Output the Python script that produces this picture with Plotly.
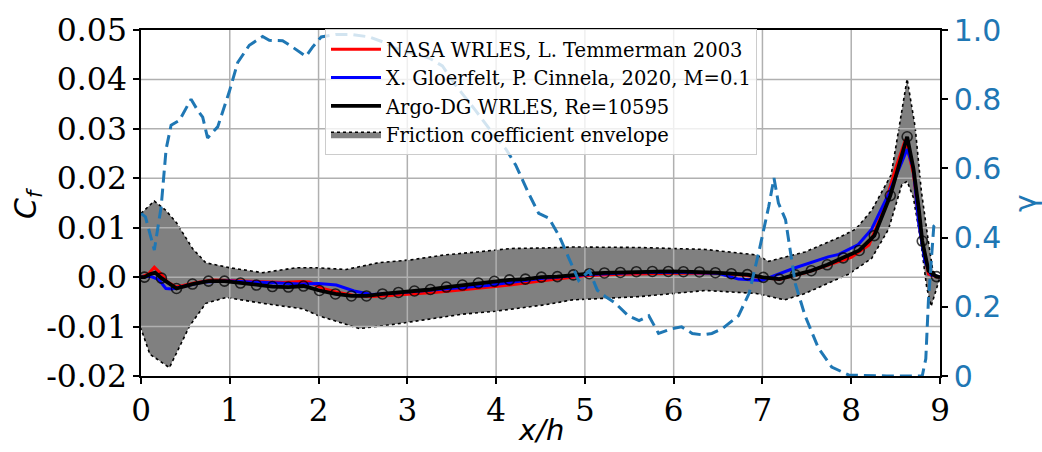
import plotly.graph_objects as go

# ---------------- data ----------------
X_TICKS = [0, 1, 2, 3, 4, 5, 6, 7, 8, 9]
CF_TICKS = [-0.02, -0.01, 0.0, 0.01, 0.02, 0.03, 0.04, 0.05]
CF_TICK_TEXT = ["-0.02", "-0.01", "0.0", "0.01", "0.02", "0.03", "0.04", "0.05"]
GAM_TICKS = [0.0, 0.2, 0.4, 0.6, 0.8, 1.0]
GAM_TICK_TEXT = ["0", "0.2", "0.4", "0.6", "0.8", "1.0"]

# NASA WRLES, L. Temmerman 2003 (red)
NASA_X = [0.0, 0.08, 0.15, 0.22, 0.3, 0.4, 0.6, 0.8, 1.0, 1.3, 1.6, 1.8, 1.9, 2.05, 2.2, 2.4,
          2.6, 2.8, 3.0, 3.3, 3.6, 3.9, 4.2, 4.5, 4.8, 5.0, 5.4, 6.0, 6.5, 6.8, 7.0, 7.2,
          7.5, 7.8, 8.0, 8.2, 8.35, 8.5, 8.61, 8.7, 8.78, 8.87, 8.95, 9.0]
NASA_CF = [0.0, 0.0006, 0.002, 0.0008, -0.001, -0.002, -0.0012, -0.0006, -0.0007, -0.0009,
           -0.0011, -0.0009, -0.001, -0.0023, -0.003, -0.0037, -0.0039, -0.0037, -0.0035,
           -0.0031, -0.0026, -0.0021, -0.0015, -0.0008, -0.0002, 0.0003, 0.0006, 0.0008,
           0.0008, 0.0004, -0.0001, -0.0004, 0.001, 0.0028, 0.004, 0.0065, 0.013, 0.022,
           0.0278, 0.021, 0.009, 0.0006, 0.0001, 0.0]

# X. Gloerfelt, P. Cinnela, 2020, M=0.1 (blue)
GLO_X = [0.0, 0.1, 0.2, 0.28, 0.35, 0.5, 0.7, 1.0, 1.3, 1.6, 1.8, 2.0, 2.2, 2.4, 2.6, 2.8,
         3.0, 3.3, 3.6, 3.9, 4.2, 4.5, 4.8, 5.0, 5.5, 6.0, 6.5, 6.73, 6.99, 7.11, 7.37,
         7.74, 7.86, 8.08, 8.23, 8.42, 8.55, 8.63, 8.7, 8.76, 8.83, 8.9, 9.0]
GLO_CF = [0.0, 0.0002, -0.0005, -0.0023, -0.0024, -0.0018, -0.001, -0.0008, -0.001, -0.0012,
          -0.0014, -0.0013, -0.0016, -0.0028, -0.0035, -0.0033, -0.003, -0.0026, -0.0022,
          -0.0017, -0.001, -0.0003, 0.0002, 0.0005, 0.0009, 0.001, 0.0008, -0.0004, -0.0007,
          0.0001, 0.0019, 0.0041, 0.0046, 0.0066, 0.0097, 0.0168, 0.0225, 0.0259, 0.022,
          0.011, 0.0032, 0.0005, 0.0]

# Argo-DG WRLES, Re=10595 (black) - marker positions
ARGO_MARK_X = [0.04, 0.23, 0.40, 0.58, 0.76, 0.94, 1.12, 1.30, 1.48, 1.66, 1.83, 2.01, 2.19,
               2.37, 2.54, 2.72, 2.90, 3.08, 3.26, 3.44, 3.62, 3.80, 3.98, 4.15, 4.33, 4.51,
               4.69, 4.87, 5.05, 5.22, 5.40, 5.58, 5.76, 5.94, 6.11, 6.29, 6.47, 6.65, 6.83,
               7.01, 7.19, 7.37, 7.55, 7.73, 7.91, 8.09, 8.26, 8.44, 8.63, 8.80, 8.96]
ARGO_MARK_CF = [0.0, -0.0002, -0.0023, -0.0014, -0.0008, -0.0008, -0.0012, -0.0016, -0.0019,
                -0.002, -0.0018, -0.0027, -0.0034, -0.0038, -0.0038, -0.0034, -0.0031, -0.0028,
                -0.0025, -0.002, -0.0016, -0.0012, -0.00085, -0.00055, -0.0004, 0.0, 0.0001,
                0.00045, 0.0007, 0.00085, 0.00095, 0.0011, 0.00115, 0.00115, 0.0011, 0.00105,
                0.0009, 0.0007, 0.0005, -0.00005, -0.0004, 0.00045, 0.0013, 0.0025, 0.0039,
                0.0054, 0.0084, 0.0165, 0.0284, 0.0073, 0.0001]
# extra points of the black line between markers
ARGO_EXTRA_X = [0.0, 0.10, 0.16, 0.31, 8.70, 8.76, 8.87, 9.0]
ARGO_EXTRA_CF = [0.0, 0.0006, 0.0009, -0.0012, 0.022, 0.014, 0.0013, 0.0]

# Friction coefficient envelope
ENV_UP_X = [0.0, 0.15, 0.28, 0.40, 0.58, 0.73, 1.0, 1.37, 1.75, 1.97, 2.31, 2.67, 3.04, 3.42,
            3.79, 4.17, 4.54, 4.86, 5.61, 6.36, 6.93, 7.07, 7.48, 7.86, 8.05, 8.23, 8.45,
            8.63, 8.72, 8.79, 8.87, 8.92, 9.0]
ENV_UP = [0.0129, 0.0154, 0.0135, 0.011, 0.0058, 0.0029, 0.0019, 0.0009, 0.0019, 0.0019,
          0.00155, 0.0029, 0.0035, 0.0045, 0.0051, 0.0058, 0.0059, 0.0061, 0.006, 0.0056,
          0.0045, 0.0032, 0.0051, 0.008, 0.0097, 0.0135, 0.0207, 0.0401, 0.0304, 0.0174,
          0.0071, 0.0012, 0.0]
ENV_LO_X = [0.0, 0.10, 0.32, 0.55, 0.73, 0.96, 1.37, 1.82, 2.0, 2.46, 2.87, 3.24, 3.62, 3.99,
            4.55, 4.86, 5.61, 6.36, 6.93, 7.25, 7.48, 7.97, 8.23, 8.42, 8.57, 8.63, 8.70,
            8.78, 8.85, 8.90, 9.0]
ENV_LO = [-0.0104, -0.0156, -0.0183, -0.0098, -0.0053, -0.0041, -0.0053, -0.0064, -0.0078,
          -0.0104, -0.0095, -0.0085, -0.0075, -0.0069, -0.0056, -0.0046, -0.00395, -0.0027,
          -0.0033, -0.0046, -0.0033, 0.0006, 0.0038, 0.0097, 0.0187, 0.0194, 0.0161, 0.0077,
          -0.002, -0.0059, 0.0]

# intermittency gamma (right axis, dashed)
GAM_X = [0.0, 0.05, 0.15, 0.227, 0.283, 0.339, 0.433, 0.564, 0.64, 0.695, 0.75, 0.864, 0.995,
         1.089, 1.22, 1.37, 1.445, 1.595, 1.71, 1.858, 1.93, 2.03, 2.195, 2.38, 2.57, 2.72,
         2.87, 3.245, 3.395, 3.545, 3.77, 3.995, 4.11, 4.22, 4.37, 4.48, 4.595, 4.71, 4.82,
         4.93, 5.05, 5.14, 5.23, 5.34, 5.49, 5.61, 5.72, 5.83, 5.98, 6.09, 6.21, 6.32, 6.43,
         6.55, 6.73, 6.85, 6.96, 7.07, 7.13, 7.18, 7.26, 7.37, 7.48, 7.63, 7.78, 7.97, 8.4,
         8.8, 8.84, 8.87, 8.93, 8.96]
GAM = [0.47, 0.46, 0.364, 0.489, 0.656, 0.725, 0.739, 0.80, 0.767, 0.748, 0.688, 0.72, 0.822,
       0.906, 0.956, 0.981, 0.97, 0.969, 0.95, 0.924, 0.95, 0.98, 0.987, 0.987, 0.98, 0.966,
       0.947, 0.919, 0.896, 0.84, 0.767, 0.69, 0.656, 0.61, 0.526, 0.47, 0.456, 0.405, 0.34,
       0.276, 0.304, 0.248, 0.23, 0.211, 0.174, 0.16, 0.174, 0.123, 0.137, 0.142, 0.123,
       0.119, 0.123, 0.137, 0.174, 0.239, 0.359, 0.489, 0.572, 0.50, 0.452, 0.267, 0.174,
       0.081, 0.026, 0.003, 0.0, 0.0, 0.05, 0.22, 0.433, 0.44]

# ---------------- figure ----------------
SERIF = "DejaVu Serif"
SANS = "DejaVu Sans"
GAM_COLOR = "#1f77b4"

fig = go.Figure()

# envelope polygon
fig.add_trace(go.Scatter(
    x=ENV_UP_X + ENV_LO_X[::-1], y=ENV_UP + ENV_LO[::-1],
    mode="lines", fill="toself", fillcolor="#808080",
    line=dict(color="black", width=1.6, dash="dot"),
    name="Friction coefficient envelope", legendrank=4, hoverinfo="skip"))

# grid lines drawn above the envelope but below the curves (matplotlib style)
gx, gy = [], []
for t in X_TICKS[1:-1]:
    gx += [t, t, None]
    gy += [CF_TICKS[0], CF_TICKS[-1], None]
for t in CF_TICKS[1:-1]:
    gx += [X_TICKS[0], X_TICKS[-1], None]
    gy += [t, t, None]
fig.add_trace(go.Scatter(x=gx, y=gy, mode="lines", line=dict(color="#b0b0b0", width=1.5),
                         showlegend=False, hoverinfo="skip"))

fig.add_trace(go.Scatter(x=NASA_X, y=NASA_CF, mode="lines",
                         line=dict(color="red", width=3),
                         name="NASA WRLES, L. Temmerman 2003", legendrank=1))
fig.add_trace(go.Scatter(x=GLO_X, y=GLO_CF, mode="lines",
                         line=dict(color="blue", width=3),
                         name="X. Gloerfelt, P. Cinnela, 2020, M=0.1", legendrank=2))

argo = sorted(zip(ARGO_MARK_X + ARGO_EXTRA_X, ARGO_MARK_CF + ARGO_EXTRA_CF))
fig.add_trace(go.Scatter(x=[p[0] for p in argo], y=[p[1] for p in argo], mode="lines",
                         line=dict(color="black", width=3.8),
                         name="Argo-DG WRLES, Re=10595", legendrank=3))
fig.add_trace(go.Scatter(x=ARGO_MARK_X, y=ARGO_MARK_CF, mode="markers",
                         marker=dict(symbol="circle-open", size=10, color="rgba(0,0,0,0.75)",
                                     line=dict(width=1.6)),
                         showlegend=False, hoverinfo="skip"))

fig.add_trace(go.Scatter(x=GAM_X, y=GAM, mode="lines", yaxis="y2",
                         line=dict(color=GAM_COLOR, width=3, dash="12px,6px"),
                         showlegend=False, name="gamma"))

L, R, T, B = 141, 102, 16, 76
PW, PH = 1042 - L - R, 452 - T - B
fig.update_layout(
    width=1042, height=452,
    margin=dict(l=L, r=R, t=T, b=B, pad=0),
    plot_bgcolor="white", paper_bgcolor="white",
    legend=dict(x=(325 - L) / PW, y=1 - (15 - T) / PH,
                xanchor="left", yanchor="top", itemwidth=50,
                bgcolor="rgba(255,255,255,0.8)", bordercolor="#cccccc", borderwidth=1,
                font=dict(family=SERIF, size=19.5, color="black"), traceorder="normal"),
    xaxis=dict(range=[0, 9], tickvals=X_TICKS, ticktext=[str(t) for t in X_TICKS],
               showgrid=False, zeroline=False, showline=True, linecolor="black",
               linewidth=1.5, mirror=True, ticks="outside", ticklen=6, tickwidth=1.5,
               tickcolor="black", ticklabeloverflow="allow",
               tickfont=dict(family=SERIF, size=31, color="black")),
    yaxis=dict(range=[-0.02, 0.05], tickvals=CF_TICKS, ticktext=CF_TICK_TEXT,
               showgrid=False, zeroline=False, showline=True, linecolor="black",
               linewidth=1.5, ticks="outside", ticklen=6, tickwidth=1.5, tickcolor="black",
               ticklabeloverflow="allow",
               tickfont=dict(family=SERIF, size=31.5, color="black")),
    yaxis2=dict(range=[0, 1], overlaying="y", side="right", tickvals=GAM_TICKS,
                ticktext=GAM_TICK_TEXT, showgrid=False, zeroline=False, showline=True,
                linecolor="black", linewidth=1.5, ticks="outside", ticklen=6, tickwidth=1.5,
                tickcolor="black", ticklabeloverflow="allow",
                tickfont=dict(family=SANS, size=30, color=GAM_COLOR)),
    annotations=[
        dict(text="<i>C</i><sub><i>f</i></sub>", xref="paper", yref="paper",
             x=(27 - L) / PW, y=0.5, textangle=-90, showarrow=False,
             xanchor="center", yanchor="middle", font=dict(family=SANS, size=30, color="black")),
        dict(text="<i>x/h</i>", xref="paper", yref="paper", x=0.5,
             y=(376 - 432) / PH, showarrow=False, xanchor="center",
             yanchor="middle", font=dict(family=SANS, size=29, color="black")),
        dict(text="γ", xref="paper", yref="paper", x=(1025 - L) / PW, y=0.5,
             textangle=-90, showarrow=False, xanchor="center", yanchor="middle",
             font=dict(family=SANS, size=30, color=GAM_COLOR)),
    ],
)

fig.write_html("out.html")
